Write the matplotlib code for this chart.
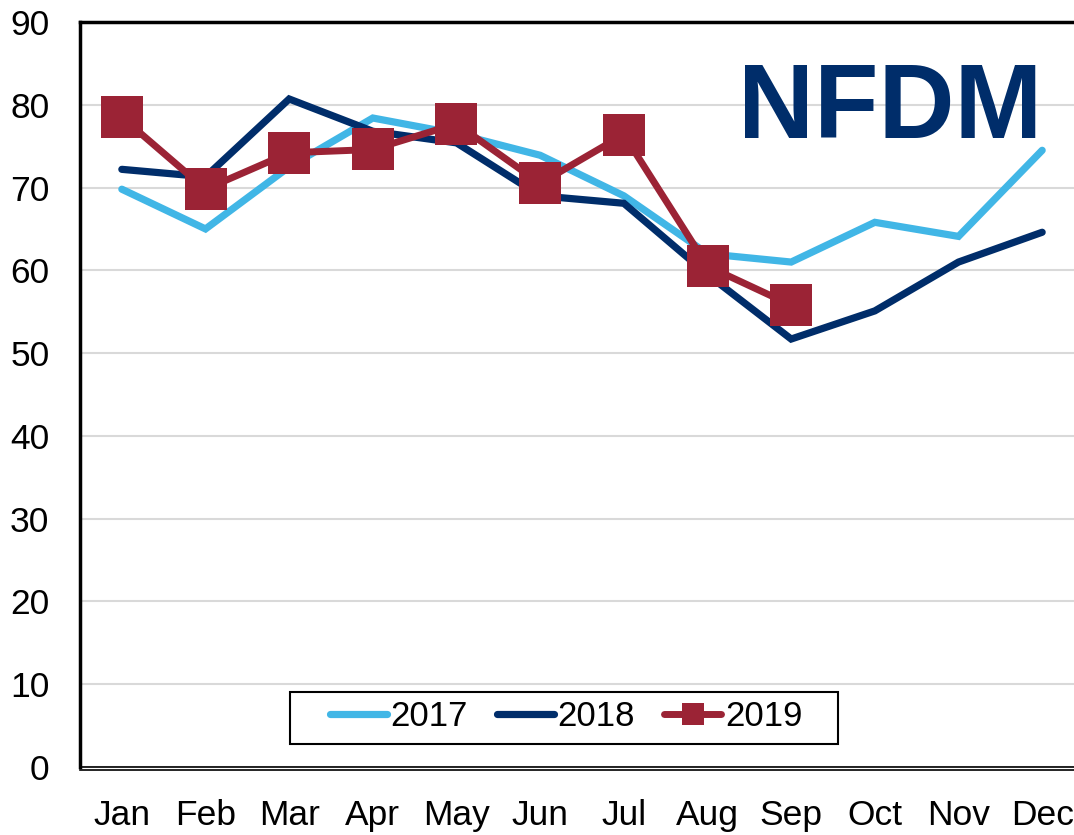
import matplotlib
matplotlib.use("Agg")
import matplotlib.pyplot as plt
from matplotlib.patches import Rectangle

months = ["Jan", "Feb", "Mar", "Apr", "May", "Jun", "Jul", "Aug", "Sep", "Oct", "Nov", "Dec"]
s2017 = [69.8, 65.0, 72.5, 78.4, 76.5, 73.9, 69.0, 62.0, 61.0, 65.8, 64.1, 74.5]
s2018 = [72.2, 71.3, 80.7, 76.8, 75.4, 69.0, 68.1, 59.5, 51.7, 55.1, 61.0, 64.6]
s2019 = [78.5, 69.8, 74.2, 74.6, 77.7, 70.5, 76.4, 60.5, 55.8]
yticks = [0, 10, 20, 30, 40, 50, 60, 70, 80, 90]
title = "NFDM"

plt.rcParams["font.family"] = ["Liberation Sans", "DejaVu Sans"]

c17 = "#41B6E6"
c18 = "#002D6A"
c19 = "#9B2335"

W, H = 1074, 835
fig = plt.figure(figsize=(W/100, H/100), dpi=100)
ax = fig.add_axes([80/W, (H-767)/H, 1004/W, (767-22)/H])

x = list(range(len(months)))
ax.plot(x, s2017, color=c17, lw=5.2, solid_capstyle="round", solid_joinstyle="miter", label="2017", zorder=3)
ax.plot(x, s2018, color=c18, lw=5.2, solid_capstyle="round", solid_joinstyle="miter", label="2018", zorder=4)
ax.plot(x[:len(s2019)], s2019, color=c19, lw=5.0, marker="s", markersize=30,
        markeredgewidth=0, solid_capstyle="round", label="2019", zorder=5)

ax.set_xlim(-0.5, 11.5)
ax.set_ylim(0, 90)
ax.set_yticks(yticks)
ax.set_xticks(x)
ax.set_xticklabels(months)
ax.tick_params(axis="both", length=0, labelsize=25.5)
ax.tick_params(axis="x", pad=21)
ax.tick_params(axis="y", pad=22)
ax.grid(axis="y", color="#D9D9D9", lw=1.5, zorder=0)
ax.set_axisbelow(True)

for s in ["left", "top"]:
    ax.spines[s].set_linewidth(2.5)
    ax.spines[s].set_color("black")
ax.spines["bottom"].set_linewidth(1.2)
ax.spines["bottom"].set_position(("outward", 2))
ax.axhline(0, color="black", lw=1.2, zorder=6, clip_on=False)
ax.spines["right"].set_visible(False)

ax.text(890/W, 1-111/H, title, transform=fig.transFigure, ha="center", va="center",
        fontsize=76, fontweight="bold", color=c18)

# legend frame drawn separately
ax.add_patch(Rectangle((290/W, 1-744/H), 548/W, 52/H, transform=fig.transFigure, clip_on=False,
                       fill=True, facecolor="white", edgecolor="black", lw=1.5, zorder=7))
leg = ax.legend(loc="center", bbox_to_anchor=(566/W, 1-717/H), bbox_transform=fig.transFigure,
                ncol=3, fontsize=25, frameon=False, markerscale=0.55,
                handlelength=1.64, handletextpad=0.1, columnspacing=0.85, borderpad=0.2)
leg.set_zorder(8)

fig.savefig("out.png", dpi=100)
